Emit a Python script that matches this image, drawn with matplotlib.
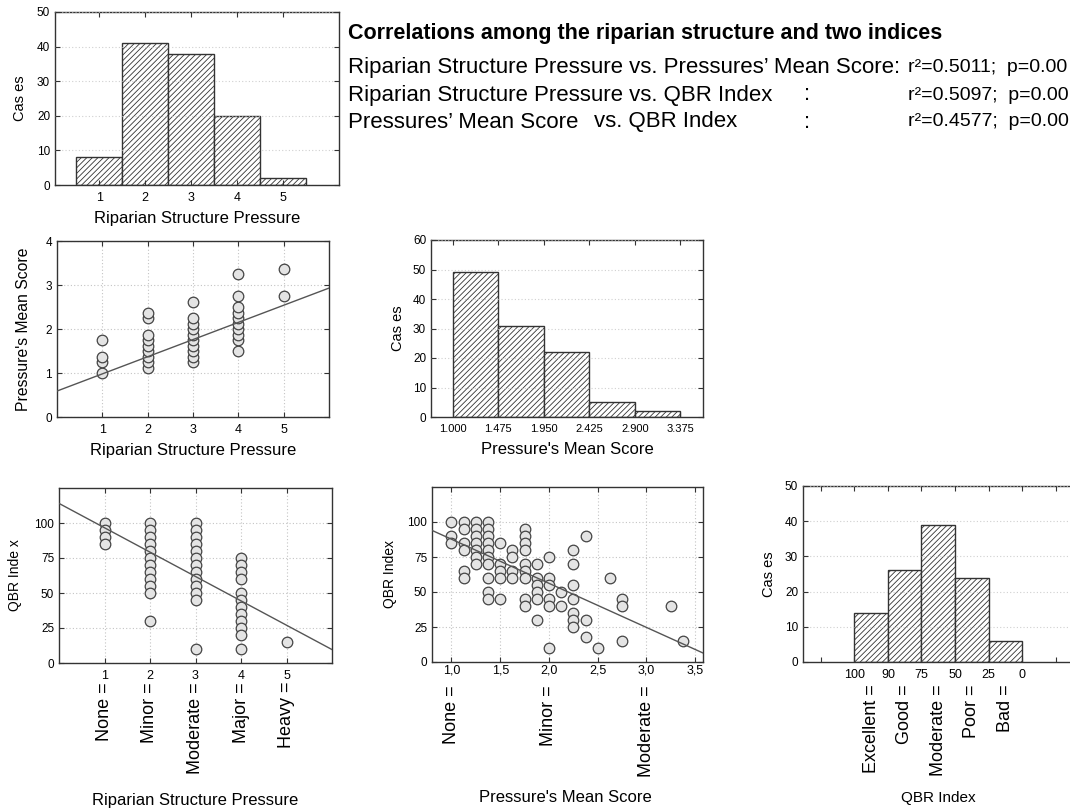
import numpy as np
import matplotlib
matplotlib.use('Agg')
import matplotlib.pyplot as plt

plt.rcParams['font.family'] = ['Liberation Sans', 'DejaVu Sans']
plt.rcParams['hatch.linewidth'] = 0.6

W, H = 1070, 808

# histogram of riparian structure pressure (classes 1..5)
rsp_classes = [1, 2, 3, 4, 5]
rsp_counts = [8, 41, 38, 20, 2]
rsp_names = ['None =', 'Minor =', 'Moderate =', 'Major =', 'Heavy =']

# histogram of pressures' mean score
msc_edges = [1.0, 1.475, 1.95, 2.425, 2.9, 3.375]
msc_counts = [49, 31, 22, 5, 2]
msc_ticks = [1.0, 1.5, 2.0, 2.5, 3.0, 3.5]
msc_names = {1.0: 'None =', 2.0: 'Minor =', 3.0: 'Moderate ='}

# histogram of QBR index classes
qbr_edges = ['100', '90', '75', '50', '25', '0']
qbr_names = ['Excellent =', 'Good =', 'Moderate =', 'Poor =', 'Bad =']
qbr_counts = [14, 26, 39, 24, 6]

# mean score by riparian structure pressure class
msc_by_rsp = {
    1: [1.0, 1.25, 1.375, 1.75],
    2: [1.125, 1.25, 1.375, 1.5, 1.625, 1.75, 1.875, 2.25, 2.375],
    3: [1.25, 1.375, 1.5, 1.625, 1.75, 1.875, 2.0, 2.125, 2.25, 2.625],
    4: [1.5, 1.75, 1.875, 2.0, 2.125, 2.25, 2.375, 2.5, 2.75, 3.25],
    5: [2.75, 3.375],
}
# QBR by riparian structure pressure class
qbr_by_rsp = {
    1: [100, 95, 90, 85],
    2: [100, 95, 90, 85, 80, 75, 70, 65, 60, 55, 50, 30],
    3: [100, 95, 90, 85, 80, 75, 70, 65, 60, 55, 50, 45, 10],
    4: [75, 70, 65, 60, 50, 45, 40, 35, 30, 25, 20, 10],
    5: [15],
}
# QBR by mean score
qbr_by_msc = {
    1.0: [100, 90, 85],
    1.125: [100, 95, 85, 80, 65, 60],
    1.25: [100, 95, 90, 85, 80, 75, 70],
    1.375: [100, 95, 90, 85, 80, 75, 70, 60, 50, 45],
    1.5: [85, 70, 65, 60, 45],
    1.625: [80, 75, 65, 60],
    1.75: [95, 90, 85, 80, 70, 65, 60, 45, 40],
    1.875: [70, 60, 55, 50, 45, 30],
    2.0: [75, 60, 55, 45, 40, 10],
    2.125: [50, 40],
    2.25: [80, 70, 55, 45, 35, 30, 25],
    2.375: [90, 30, 18],
    2.5: [10],
    2.625: [60],
    2.75: [45, 40, 15],
    3.25: [40],
    3.375: [15],
}
# regression lines (intercept, slope)
fit_rsp_msc = (0.59, 0.39)
fit_rsp_qbr = (114.0, -17.4)
fit_msc_qbr = (119.2, -31.5)

stats_rows = [
    ('Riparian Structure Pressure vs. Pressures\u2019 Mean Score:', '', '', 'r\u00b2=0.5011;  p=0.00'),
    ('Riparian Structure Pressure vs. QBR Index', '', ':', 'r\u00b2=0.5097;  p=0.00'),
    ('Pressures\u2019 Mean Score', 'vs. QBR Index', ':', 'r\u00b2=0.4577;  p=0.00'),
]

fig = plt.figure(figsize=(W / 100, H / 100), dpi=100)

EDGE = '#333333'
GRID = '#c4c4c4'


def axes_px(l, t, r, b):
    ax = fig.add_axes([l / W, 1 - b / H, (r - l) / W, (b - t) / H])
    ax._px = (l, t, r, b)
    return ax


def style(ax, gx=True, pad_x=5, pad_y=3.5, xsize=9):
    for s in ax.spines.values():
        s.set_color(EDGE)
        s.set_linewidth(1)
    ax.tick_params(direction='in', top=True, right=True, length=3.5,
                   width=0.8, color=EDGE, labelcolor='black')
    ax.tick_params(axis='x', pad=pad_x, labelsize=xsize)
    ax.tick_params(axis='y', pad=pad_y, labelsize=8.5)
    ax.grid(True, axis='both' if gx else 'y', color=GRID,
            ls=(0, (1, 2)), lw=0.8)


def labels(ax, xl, xpos, yl, ypos, xs=12, ys=10.5):
    l, t, r, b = ax._px
    ax.set_xlabel(xl, fontsize=xs, va='center')
    ax.xaxis.set_label_coords((xpos[0] - l) / (r - l), (b - xpos[1]) / (b - t))
    ax.set_ylabel(yl, fontsize=ys, va='center')
    ax.yaxis.set_label_coords((ypos - l) / (r - l), 0.5)


def hbars(ax, left, widths, heights):
    ax.bar(left, heights, width=widths, align='edge', color='white',
           edgecolor=EDGE, hatch='//////', linewidth=1, zorder=2)
    ax.set_axisbelow(False)
    for gl in ax.get_ygridlines():
        gl.set_zorder(3)
        gl.set_alpha(0.8)


def points(ax, x, y):
    ax.scatter(x, y, s=58, facecolor='#e4e4e4', edgecolor='#444444',
               linewidth=0.9, zorder=3)


def fit_line(ax, fit):
    xs = np.array(ax.get_xlim())
    ax.plot(xs, fit[0] + fit[1] * xs, color='#555555', lw=1, zorder=4)


def cat_labels(ax, xs, names, off_px):
    for x, n in zip(xs, names):
        ax.annotate(n, xy=(x, 0), xycoords=('data', 'axes fraction'),
                    xytext=(0, -off_px * 0.72), textcoords='offset points',
                    rotation=90, ha='center', va='top', fontsize=13)


# A: histogram riparian structure pressure
axA = axes_px(55, 12, 339, 185)
hbars(axA, np.array(rsp_classes) - 0.5, 1.0, rsp_counts)
axA.set_xlim(0.04, 6.22)
axA.set_ylim(0, 50)
axA.set_xticks(rsp_classes)
axA.set_yticks(range(0, 51, 10))
style(axA, gx=False, pad_x=5)
labels(axA, 'Riparian Structure Pressure', (197, 218), 'Cas es', 20)

# B: mean score vs riparian structure pressure
axB = axes_px(57, 241, 329, 417)
bx = [k for k, v in msc_by_rsp.items() for _ in v]
by = [y for v in msc_by_rsp.values() for y in v]
points(axB, bx, by)
axB.set_xlim(0, 6)
axB.set_ylim(0, 4)
axB.set_xticks(rsp_classes)
axB.set_yticks(range(0, 5))
fit_line(axB, fit_rsp_msc)
style(axB, pad_x=5)
labels(axB, 'Riparian Structure Pressure', (193, 450), "Pressure's Mean Score", 24, ys=11.3)

# C: histogram mean score
axC = axes_px(431, 240, 703, 417)
hbars(axC, msc_edges[:-1], np.diff(msc_edges), msc_counts)
axC.set_xlim(0.775, 3.61)
axC.set_ylim(0, 60)
axC.set_xticks(msc_edges)
axC.set_xticklabels(['%.3f' % e for e in msc_edges])
axC.set_yticks(range(0, 61, 10))
style(axC, gx=False, pad_x=5, xsize=8)
labels(axC, "Pressure's Mean Score", (567, 450), 'Cas es', 398)

# D: QBR vs riparian structure pressure
axD = axes_px(59, 488, 332, 663)
dx = [k for k, v in qbr_by_rsp.items() for _ in v]
dy = [y for v in qbr_by_rsp.values() for y in v]
points(axD, dx, dy)
axD.set_xlim(0, 6)
axD.set_ylim(0, 125)
axD.set_xticks(rsp_classes)
axD.set_yticks(range(0, 101, 25))
fit_line(axD, fit_rsp_qbr)
style(axD, pad_x=5)
cat_labels(axD, rsp_classes, rsp_names, 19)
labels(axD, 'Riparian Structure Pressure', (195, 800), 'QBR Inde x', 15, ys=10)

# E: QBR vs mean score
axE = axes_px(432, 487, 703, 662)
ex = [k for k, v in qbr_by_msc.items() for _ in v]
ey = [y for v in qbr_by_msc.values() for y in v]
points(axE, ex, ey)
axE.set_xlim(0.8, 3.58)
axE.set_ylim(0, 125)
axE.set_xticks(msc_ticks)
axE.set_xticklabels([('%.1f' % t).replace('.', ',') for t in msc_ticks])
axE.set_yticks(range(0, 101, 25))
fit_line(axE, fit_msc_qbr)
style(axE, pad_x=2)
cat_labels(axE, list(msc_names.keys()), list(msc_names.values()), 23)
labels(axE, "Pressure's Mean Score", (565, 798), 'QBR Index', 390, ys=10)

# F: histogram QBR classes
axF = axes_px(803, 486, 1106, 662)
hbars(axF, range(len(qbr_counts)), 1.0, qbr_counts)
axF.set_xlim(-1.53, 7.5)
axF.set_ylim(0, 50)
axF.set_xticks(range(-1, 8))
axF.set_xticklabels([''] + qbr_edges + ['', ''])
axF.set_yticks(range(0, 51, 10))
style(axF, gx=False, pad_x=5)
cat_labels(axF, np.arange(len(qbr_names)) + 0.5, qbr_names, 22)
labels(axF, 'QBR Index', (938, 798), 'Cas es', 769, xs=11)

# correlation text block
fig.text(348 / W, 1 - 34 / H, 'Correlations among the riparian structure and two indices',
         fontsize=15.5, fontweight='bold', va='center', ha='left')
cols = [348, 594, 804, 908]
sizes = [16, 16, 16, 14]
for i, row in enumerate(stats_rows):
    y = 1 - (68 + 27 * i) / H
    for x, fs, s in zip(cols, sizes, row):
        if s:
            fig.text(x / W, y, s, fontsize=fs, va='center', ha='left')

fig.savefig('out.png', dpi=100)
